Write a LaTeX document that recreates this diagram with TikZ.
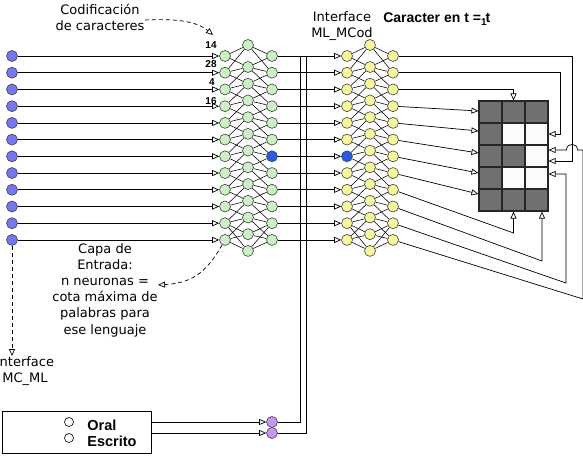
\documentclass[tikz,border=0pt]{standalone}
\usepackage{fontspec}
\setmainfont{DejaVu Sans}
\newfontfamily\boldsans{Liberation Sans}
\usepackage{tikz}
\usepackage{xcolor}
\usetikzlibrary{arrows.meta, positioning, calc}

\definecolor{inblue}{RGB}{118,118,238}
\definecolor{cgreen}{RGB}{202,240,196}
\definecolor{cyellow}{RGB}{246,246,158}
\definecolor{hiblue}{RGB}{38,92,228}
\definecolor{cpurple}{RGB}{198,150,240}
\definecolor{cellgray}{RGB}{112,112,112}
\definecolor{cellwhite}{RGB}{251,251,251}

\tikzset{
  neuron/.style={circle, draw=black!75, line width=0.6pt, minimum size=11pt, inner sep=0pt},
  inneuron/.style={neuron, fill=inblue},
  gneuron/.style={neuron, fill=cgreen},
  yneuron/.style={neuron, fill=cyellow},
  pneuron/.style={neuron, fill=cpurple},
  feed/.style={-{Triangle[open, length=7pt, width=6pt]}},
  hint/.style={dash pattern=on 4pt off 3pt, feed},
  cell/.style={draw=black!85, line width=1.1pt, minimum width=23pt, minimum height=22pt, inner sep=0pt},
  lab/.style={font=\fontsize{13}{16.2}\selectfont, align=center, inner sep=0pt},
  num/.style={font=\boldsans\bfseries\fontsize{10}{10}\selectfont, inner sep=0pt},
  bold/.style={font=\boldsans\bfseries\fontsize{14.5}{16}\selectfont, inner sep=0pt}
}

\begin{document}
\begin{tikzpicture}[x=1pt, y=-1pt, line width=0.7pt]
\useasboundingbox (0,0) rectangle (583,458);

% Neurons of the input layer and of both networks
\foreach \i in {0,...,11}{
  \pgfmathsetmacro\y{56+16.72*\i}
  \ifnum\i=6 \def\hfill{hiblue}\def\kfill{hiblue}\else\def\hfill{cgreen}\def\kfill{cyellow}\fi
  \node[inneuron] (in\i) at (12,\y) {};
  \node[gneuron] (ga\i) at (225,\y) {};
  \node[neuron, fill=\hfill] (gc\i) at (272,\y) {};
  \node[neuron, fill=\kfill] (ya\i) at (347,\y) {};
  \node[yneuron] (yc\i) at (393,\y) {};
}
\foreach \j in {0,...,12}{
  \ifnum\j=0 \def\y{45}\else\pgfmathsetmacro\y{50.28+16.72*\j}\fi
  \node[gneuron] (gb\j) at (248,\y) {};
  \node[yneuron] (yb\j) at (370,\y) {};
}

% Hidden connections
\foreach \i in {0,...,11}{
  \foreach \d in {-1,0,1}{
    \pgfmathtruncatemacro\j{\i+\d}
    \ifnum\j>-1 \ifnum\j<13
      \draw[line width=0.55pt] (ga\i) -- (gb\j) (gb\j) -- (gc\i);
      \draw[line width=0.55pt] (ya\i) -- (yb\j) (yb\j) -- (yc\i);
    \fi\fi
  }
  \draw[feed] (in\i) -- (ga\i);
  \draw[feed] (gc\i) -- (ya\i);
}
\draw[line width=0.55pt] (ga10) -- (gb12) (gb12) -- (gc10);
\draw[line width=0.55pt] (ya10) -- (yb12) (yb12) -- (yc10);

% Character codes
\node[num] (n14) at (211,45) {14};
\node[num] (n28) at (211,64) {28};
\node[num] (n4) at (212,82) {4};
\node[num] (n16) at (211,101) {16};

% Labels
\node[lab] (codif) at (100,17) {Codificación\\de caracteres};
\coordinate (codtip) at (213,35);
\draw[hint] ([yshift=-3pt]codif.east) .. controls (185,18) and (200,24) .. (codtip);

\node[lab] (iface2) at (342,26) {Interface\\ML\_MCod};
\node[font=\boldsans\bfseries\fontsize{14}{16}\selectfont, inner sep=0pt, anchor=west] (chartitle) at (383,19)
  {Caracter en t =\raisebox{-2.5pt}{\fontsize{10}{10}\selectfont 1}\kern-1pt t};

\node[lab] (capa) at (105,290) {Capa de\\Entrada:\\n neuronas =\\cota máxima de\\palabras para\\ese lenguaje};
\draw[hint] (ga11.-120) .. controls (205,275) and (190,283) .. ([yshift=5pt]capa.east);

\node[lab] (iface1) at (25,371) {Interface\\MC\_ML};
\draw[hint] (in11) -- (in11|-iface1.north);

% Output grid
\foreach \r in {0,...,4}{
  \foreach \c in {0,1,2}{
    \pgfmathtruncatemacro\dark{(\c==0)||(\r==0)||(\r==4)||((\r==2)&&(\c==1))}
    \ifnum\dark=1 \def\cf{cellgray}\else\def\cf{cellwhite}\fi
    \node[cell, fill=\cf] (g\r\c) at ({490.5+23*\c},{112+22*\r}) {};
  }
}

% Outputs to the grid
\draw[feed] (yc0) -| (572,161) -- ([yshift=-5pt]g22.east);
\draw[feed] (yc1) -| (560,134) -- (g12.east);
\draw[feed] (yc2) -| (g01.north);
\foreach \i/\r/\s in {3/0/1,4/1/3,5/2/3,6/3/5,7/4/6}
  \draw[feed] (yc\i) -- ([yshift=\s pt]g\r0.west);
\draw[feed] (yc8) -- (513.5,233) -- (g41.south);
\draw[feed] (yc9) -- (542,261) -- ([xshift=5.5pt]g42.south);
\draw[feed] (yc10) -- (566,283) |- ([yshift=4pt]g32.east);
\draw[feed] (yc11) -- (583,299) |- (577.5,150) .. controls (577.5,142.5) and (566.5,142.5) .. (566.5,150) -- ([yshift=6pt]g22.east);

% Oral / Escrito
\node[draw, line width=0.9pt, minimum width=149pt, minimum height=42pt, inner sep=0pt] (modo) at (76.5,432) {};
\node[circle, draw, line width=0.6pt, minimum size=9pt, inner sep=0pt] (oralbtn) at (69,422) {};
\node[circle, draw, line width=0.6pt, minimum size=9pt, inner sep=0pt] (escbtn) at (69,438) {};
\node[bold, anchor=west] (oral) at (87,425) {Oral};
\node[bold, anchor=west] (escrito) at (87,441) {Escrito};
\node[pneuron] (po) at (272,422) {};
\node[pneuron] (pe) at (272,433) {};
\draw[feed] (modo.east|-po) -- (po);
\draw[feed] (modo.east|-pe) -- (pe);
\draw (po) -| (300,56);
\draw (pe) -| (306,56);
\end{tikzpicture}
\end{document}
